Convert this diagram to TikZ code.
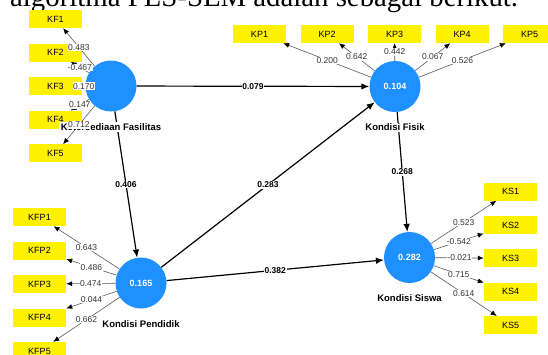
\documentclass[tikz,border=0pt]{standalone}
\usepackage{fontspec}
\setmainfont{Liberation Sans}
\newfontfamily\titlefont{Liberation Serif}
\usetikzlibrary{arrows.meta,positioning}
\definecolor{lvblue}{RGB}{30,144,255}
\tikzset{
  lv/.style={circle,fill=lvblue,minimum size=51pt,inner sep=0pt,text=white,font=\bfseries\fontsize{9}{10}\selectfont},
  ind/.style={rectangle,fill=yellow,minimum width=53pt,minimum height=18pt,inner sep=0pt,font=\fontsize{9}{10}\selectfont},
  lvname/.style={fill=white,inner sep=1.5pt,font=\bfseries\fontsize{9.5}{11}\selectfont},
  struct/.style={draw=black,line width=1.2pt,-{Latex[length=8pt,width=6.5pt]}},
  load/.style={draw=black!65,line width=0.6pt,-{Latex[length=6pt,width=5pt,color=black]}},
  coef/.style={fill=white,inner sep=0.8pt,font=\bfseries\fontsize{8.5}{9}\selectfont},
  ldg/.style={fill=white,inner sep=0.6pt,text=black!80,font=\fontsize{8.5}{9}\selectfont}
}
\begin{document}
\begin{tikzpicture}[x=1pt,y=-1pt]
\useasboundingbox (0,0) rectangle (548,354);
\clip (0,0) rectangle (548,354);
\node[anchor=base west,inner sep=0pt,font=\titlefont\fontsize{28.8}{30}\selectfont] (ttl) at (10,6.5) {algoritma PLS-SEM adalah sebagai berikut.};

% latent variables
\node[lv] (kkf) at (111,86) {};
\node[lv] (kfis) at (395,86.5) {0.104};
\node[lv] (kpen) at (141,283) {0.165};
\node[lv] (ksis) at (409.5,257.5) {0.282};

% indicators
\foreach \i in {1,...,5} {
  \node[ind] (kf\i) at (55.5,{19+(\i-1)*33.6}) {KF\i};
  \node[ind] (kfp\i) at (39.5,{217+(\i-1)*33.5}) {KFP\i};
  \node[ind] (kp\i) at ({259.5+(\i-1)*67.5},34) {KP\i};
  \node[ind] (ks\i) at (510.5,{191.5+(\i-1)*33.4}) {KS\i};
}

% inner model
\draw[struct] (kkf) -- node[coef] {0.079} (kfis);
\draw[struct] (kkf) -- node[coef] {0.406} (kpen);
\draw[struct] (kpen) -- node[coef] {0.283} (kfis);
\draw[struct] (kfis) -- node[coef] {0.268} (ksis);
\draw[struct] (kpen) -- node[coef] {0.382} (ksis);

\node[lvname] (kkf-t) at ([yshift=-41pt]kkf) {Ketersediaan Fasilitas};
\node[lvname] (kfis-t) at ([yshift=-41pt]kfis) {Kondisi Fisik};
\node[lvname] (kpen-t) at ([yshift=-41pt]kpen) {Kondisi Pendidik};
\node[lvname] (ksis-t) at ([yshift=-41pt]ksis) {Kondisi Siswa};

% outer model
\foreach \v [count=\i] in {0.483,-0.467,0.170,0.147,0.712}
  \draw[load] (kkf) -- node[ldg] {\v} (kf\i);
\foreach \v [count=\i] in {0.643,0.486,0.474,0.044,0.662}
  \draw[load] (kpen) -- node[ldg] {\v} (kfp\i);
\foreach \v [count=\i] in {0.200,0.642,0.442,0.067,0.526}
  \draw[load] (kfis) -- node[ldg] {\v} (kp\i);
\foreach \v [count=\i] in {0.523,-0.542,-0.021,0.715,0.614}
  \draw[load] (ksis) -- node[ldg] {\v} (ks\i);
\end{tikzpicture}
\end{document}
